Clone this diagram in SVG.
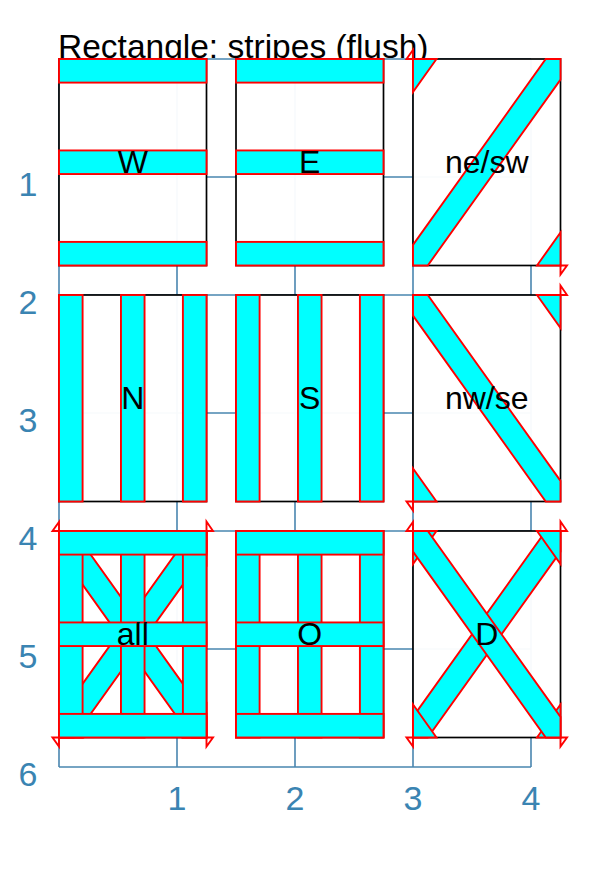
<svg xmlns="http://www.w3.org/2000/svg" xmlns:xlink="http://www.w3.org/1999/xlink" width="613" height="875" viewBox="0 0 613 875">
<style>
.ax{stroke:#4a86b0;stroke-width:1.6;fill:none}
.axl{fill:#3a84b2;font-family:"Liberation Sans",Arial,sans-serif;font-size:34px;text-anchor:middle}
.title{fill:#000;font-family:"Liberation Sans",Arial,sans-serif;font-size:33.5px}
.cell{fill:#fff;fill-opacity:0.96;stroke:#000;stroke-width:1.7}
.st{fill:#00ffff;stroke:#ff0000;stroke-width:1.9;stroke-linejoin:miter}
.mk{fill:none;stroke:#ff0000;stroke-width:1.9}
.lbl{fill:#000;font-family:"Liberation Sans",Arial,sans-serif;font-size:32px;text-anchor:middle}
</style>
<defs>
<g id="pw">
<rect class="st" x="0" y="0" width="147.5" height="23.6"/>
<rect class="st" x="0" y="91.45" width="147.5" height="23.6"/>
<rect class="st" x="0" y="182.9" width="147.5" height="23.6"/>
</g>
<g id="pn">
<rect class="st" x="0" y="0" width="23.6" height="206.5"/>
<rect class="st" x="61.95" y="0" width="23.6" height="206.5"/>
<rect class="st" x="123.9" y="0" width="23.6" height="206.5"/>
</g>
<g id="pne">
<polygon class="st" points="0,206.5 14.75,206.5 147.5,20.65 147.5,0 132.75,0 0,185.85"/>
<polygon class="st" points="0,0 23.5,0 0,33"/>
<polygon class="st" points="147.5,206.5 124,206.5 147.5,173.5"/>
<polygon class="mk" points="0,0 0,-9 -6.5,0"/>
<polygon class="mk" points="147.5,206.5 154,206.5 147.5,215.5"/>
</g>
<g id="pnw">
<polygon class="st" points="147.5,206.5 132.75,206.5 0,20.65 0,0 14.75,0 147.5,185.85"/>
<polygon class="st" points="147.5,0 124,0 147.5,33"/>
<polygon class="st" points="0,206.5 23.5,206.5 0,173.5"/>
<polygon class="mk" points="147.5,0 147.5,-9.5 154,0"/>
<polygon class="mk" points="0,206.5 -6.5,206.5 0,215.5"/>
</g>
</defs>
<text class="title" x="58" y="58">Rectangle: stripes (flush)</text>
<g id="axes">
<path class="ax" d="M59,59H531M59,177H531M59,295H531M59,413H531M59,531H531M59,649H531M59,767H531"/>
<path class="ax" d="M59,59V767M177,59V767M295,59V767M413,59V767M531,59V767"/>
<text class="axl" x="28" y="196">1</text>
<text class="axl" x="28" y="314">2</text>
<text class="axl" x="28" y="432">3</text>
<text class="axl" x="28" y="550">4</text>
<text class="axl" x="28" y="668">5</text>
<text class="axl" x="28" y="786">6</text>
<text class="axl" x="177" y="810">1</text>
<text class="axl" x="295" y="810">2</text>
<text class="axl" x="413" y="810">3</text>
<text class="axl" x="531" y="810">4</text>
</g>
<g id="node-W" transform="translate(59,59)">
<rect class="cell" width="147.5" height="206.5"/>
<use xlink:href="#pw" href="#pw"/>
<text class="lbl" x="73.75" y="114.25">W</text>
</g>
<g id="node-E" transform="translate(236,59)">
<rect class="cell" width="147.5" height="206.5"/>
<use xlink:href="#pw" href="#pw"/>
<text class="lbl" x="73.75" y="114.25">E</text>
</g>
<g id="node-nesw" transform="translate(413,59)">
<rect class="cell" width="147.5" height="206.5"/>
<use xlink:href="#pne" href="#pne"/>
<text class="lbl" x="73.75" y="114.25">ne/sw</text>
</g>
<g id="node-N" transform="translate(59,295)">
<rect class="cell" width="147.5" height="206.5"/>
<use xlink:href="#pn" href="#pn"/>
<text class="lbl" x="73.75" y="114.25">N</text>
</g>
<g id="node-S" transform="translate(236,295)">
<rect class="cell" width="147.5" height="206.5"/>
<use xlink:href="#pn" href="#pn"/>
<text class="lbl" x="73.75" y="114.25">S</text>
</g>
<g id="node-nwse" transform="translate(413,295)">
<rect class="cell" width="147.5" height="206.5"/>
<use xlink:href="#pnw" href="#pnw"/>
<text class="lbl" x="73.75" y="114.25">nw/se</text>
</g>
<g id="node-all" transform="translate(59,531)">
<rect class="cell" width="147.5" height="206.5"/>
<use xlink:href="#pne" href="#pne"/>
<use xlink:href="#pnw" href="#pnw"/>
<use xlink:href="#pn" href="#pn"/>
<use xlink:href="#pw" href="#pw"/>
<text class="lbl" x="73.75" y="114.25">all</text>
</g>
<g id="node-O" transform="translate(236,531)">
<rect class="cell" width="147.5" height="206.5"/>
<use xlink:href="#pn" href="#pn"/>
<use xlink:href="#pw" href="#pw"/>
<text class="lbl" x="73.75" y="114.25">O</text>
</g>
<g id="node-D" transform="translate(413,531)">
<rect class="cell" width="147.5" height="206.5"/>
<use xlink:href="#pne" href="#pne"/>
<use xlink:href="#pnw" href="#pnw"/>
<text class="lbl" x="73.75" y="114.25">D</text>
</g>
</svg>
